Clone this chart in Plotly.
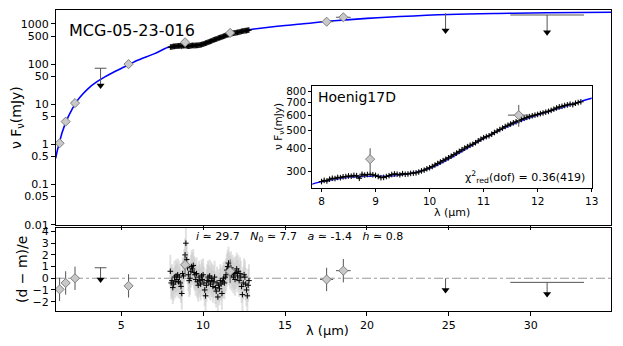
import numpy as np
import plotly.graph_objects as go

# ---------------- data ----------------
# photometry (diamonds)
phot_x = [1.24, 1.61, 2.18, 5.45, 8.9, 11.65, 17.54, 18.56]
phot_y = [1.07, 3.7, 10.7, 100, 350, 600, 1140, 1470]
phot_yerr = [0.1, 0.35, 1.0, 10, 50, 80, 60, 80]
phot_xerr = [0.0, 0.0, 0.0, 0.0, 0.0, 0.2, 0.4, 0.45]
phot_res = [-0.95, -0.4, 0.0, -0.65, 1.15, 0.6, -0.1, 0.65]

# upper limits
ul_x = [3.74, 24.8, 31.0]
ul_y = [79, 1850, 1675]
ul_xerr = [0.36, 0.0, 2.25]
ul_res = [0.9, 0.0, -0.35]

# spectrum
spec_x = [8.00, 8.05, 8.10, 8.15, 8.20, 8.25, 8.30, 8.35, 8.40, 8.45, 8.50, 8.55,
          8.60, 8.65, 8.70, 8.75, 8.80, 8.85, 8.90, 8.95, 9.00, 9.05, 9.10, 9.15,
          9.20, 9.25, 9.30, 9.35, 9.40, 9.45, 9.50, 9.55, 9.60, 9.65, 9.70, 9.75,
          9.80, 9.85, 9.90, 9.95, 10.00, 10.05, 10.10, 10.15, 10.20, 10.25, 10.30,
          10.35, 10.40, 10.45, 10.50, 10.55, 10.60, 10.65, 10.70, 10.75, 10.80,
          10.85, 10.90, 10.95, 11.00, 11.05, 11.10, 11.15, 11.20, 11.25, 11.30,
          11.35, 11.40, 11.45, 11.50, 11.55, 11.60, 11.65, 11.70, 11.75, 11.80,
          11.85, 11.90, 11.95, 12.00, 12.05, 12.10, 12.15, 12.20, 12.25, 12.30,
          12.35, 12.40, 12.45, 12.50, 12.55, 12.60, 12.65, 12.70, 12.75, 12.80]
spec_y = [266, 270, 268, 274, 277, 276, 280, 279, 282, 283, 285, 284,
          287, 286, 277, 291, 288, 290, 291, 289, 287, 283, 279, 280,
          283, 286, 290, 292, 291, 289, 293, 291, 292, 294, 295, 296,
          299, 303, 306, 311, 315, 320, 326, 332, 338, 344, 350,
          356, 363, 370, 377, 385, 393, 401, 408, 415, 420,
          428, 438, 447, 455, 461, 466, 475, 485, 494, 503,
          512, 522, 530, 538, 546, 553, 560, 569, 577, 584,
          589, 595, 600, 605, 611, 616, 622, 628, 636, 645,
          655, 664, 668, 675, 680, 686, 682, 694, 700, 706]
spec_res = [0.6, -0.4, -0.2, -0.8, -0.5, 0.1, -0.3, 0.2, -0.1, 0.3, -0.3, 0.1,
            -0.4, -0.7, -1.3, 0.4, 0.2, 1.1, 2.0, 3.0, 1.6, 0.9, 0.3, -0.2,
            0.0, 0.6, 1.0, 0.8, 1.1, 0.5, 0.3, -0.1, 0.4, -0.3, -0.6, 0.1,
            -0.2, -0.5, 0.2, -0.1, 0.3, -0.4, -1.0, -1.5, -0.6, -0.2, 0.1,
            -0.3, 0.2, -0.5, 0.0, -0.2, -0.7, -0.3, 0.1, -0.8, -1.1,
            -0.4, -1.6, -0.6, -0.9, -0.2, -0.5, -1.3, -0.3, 0.0, -0.4,
            0.1, 0.3, 0.7, 1.0, 1.3, 0.8, 0.5, 0.9, 0.3, 0.6,
            0.1, 0.4, -0.1, 0.5, 0.8, 0.2, 0.6, -0.2, 0.4, 0.1,
            -0.7, -1.4, -0.4, 0.3, 0.1, -0.5, -1.0, -1.5, -0.6, -0.2]

# model
model_x = [1.0, 1.1, 1.2, 1.4, 1.6, 1.8, 2.0, 2.3, 2.6, 3.0, 3.5, 4.0, 4.5, 5.0,
           5.5, 6.0, 7.0, 7.83, 8.0, 8.5, 9.0, 9.2, 9.5, 10.0, 10.5, 11.0, 11.5, 12.0,
           12.5, 13.0, 14, 15, 16, 18, 20, 22, 25, 28, 31, 35]
model_y = [0.45, 0.7, 1.0, 2.0, 3.4, 5.2, 7.5, 12, 17, 25, 36, 48, 62, 78,
           98, 125, 180, 258, 265, 280, 285, 284, 290, 312, 370, 450, 530, 600,
           665, 738, 830, 920, 1000, 1200, 1380, 1530, 1720, 1830, 1900, 1960]

main_yticks = [0.01, 0.05, 0.1, 0.5, 1, 5, 10, 50, 100, 500, 1000]
main_yticktext = ["0.01", "0.05", "0.1", "0.5", "1", "5", "10", "50", "100", "500", "1000"]
x_ticks = [5, 10, 15, 20, 25, 30]
res_ticks = [-2, -1, 0, 1, 2, 3, 4]
res_ticktext = ["\u22122", "\u22121", "0", "1", "2", "3", "4"]
inset_xticks = [8, 9, 10, 11, 12, 13]
inset_yticks = [300, 400, 500, 600, 700, 800]

# ---------------- figure ----------------
OFF = 8  # page body margin
W, H = 623 - OFF, 346 - OFF
def px(v):
    return (v - OFF) / W
def py(v):
    return 1 - (v - OFF) / H

FONT = "DejaVu Sans"
BLUE = "#0000ff"
DGRAY = "#555555"
DIAMOND = dict(symbol="diamond", size=7, color="#c8c8c8", line=dict(color="#808080", width=1))
CROSS = dict(symbol="cross-thin", size=4, color="black", line=dict(color="black", width=1))

fig = go.Figure()

ul_tip = [v * 0.37 for v in ul_y]
ul_minus = [v - t for v, t in zip(ul_y, ul_tip)]
res_arrow = 1.0
ul_res_tip = [r - res_arrow for r in ul_res]

# ---- main panel ----
fig.add_trace(go.Scatter(x=model_x, y=model_y, mode="lines", line=dict(color=BLUE, width=1.6, shape="spline"),
                         xaxis="x", yaxis="y", hoverinfo="skip"))
fig.add_trace(go.Scatter(x=spec_x, y=spec_y, mode="lines+markers", line=dict(color="black", width=2.4),
                         marker=CROSS, xaxis="x", yaxis="y"))
fig.add_trace(go.Scatter(x=phot_x, y=phot_y, mode="markers", marker=DIAMOND,
                         error_y=dict(type="data", array=phot_yerr, color=DGRAY, thickness=1, width=0),
                         error_x=dict(type="data", array=phot_xerr, color=DGRAY, thickness=1, width=0),
                         xaxis="x", yaxis="y"))
fig.add_trace(go.Scatter(x=ul_x, y=ul_y, mode="markers", marker=dict(size=1, color="rgba(0,0,0,0)"),
                         error_y=dict(type="data", symmetric=False, array=[0, 0, 0], arrayminus=ul_minus,
                                      color=DGRAY, thickness=1, width=0),
                         error_x=dict(type="data", array=ul_xerr, color=DGRAY, thickness=1, width=0),
                         xaxis="x", yaxis="y"))
fig.add_trace(go.Scatter(x=ul_x, y=ul_tip, mode="markers",
                         marker=dict(symbol="triangle-down", size=7, color="black"),
                         xaxis="x", yaxis="y"))

# ---- residual panel ----
fig.add_trace(go.Scatter(x=spec_x, y=spec_res, mode="markers", marker=CROSS,
                         error_y=dict(type="constant", value=1.4, color="rgba(200,200,200,0.55)", thickness=2, width=0),
                         xaxis="x2", yaxis="y2"))
fig.add_trace(go.Scatter(x=phot_x, y=phot_res, mode="markers", marker=DIAMOND,
                         error_y=dict(type="constant", value=1.0, color=DGRAY, thickness=1, width=0),
                         error_x=dict(type="data", array=phot_xerr, color=DGRAY, thickness=1, width=0),
                         xaxis="x2", yaxis="y2"))
fig.add_trace(go.Scatter(x=ul_x, y=ul_res, mode="markers", marker=dict(size=1, color="rgba(0,0,0,0)"),
                         error_y=dict(type="data", symmetric=False, array=[0, 0, 0],
                                      arrayminus=[res_arrow] * 3, color=DGRAY, thickness=1, width=0),
                         error_x=dict(type="data", array=ul_xerr, color=DGRAY, thickness=1, width=0),
                         xaxis="x2", yaxis="y2"))
fig.add_trace(go.Scatter(x=ul_x, y=ul_res_tip, mode="markers",
                         marker=dict(symbol="triangle-down", size=7, color="black"),
                         xaxis="x2", yaxis="y2"))

# ---- inset ----
fig.add_trace(go.Scatter(x=model_x, y=model_y, mode="lines", line=dict(color=BLUE, width=1.4, shape="spline"),
                         xaxis="x3", yaxis="y3", hoverinfo="skip"))
fig.add_trace(go.Scatter(x=spec_x, y=spec_y, mode="lines+markers", line=dict(color="black", width=1.2),
                         marker=CROSS,
                         error_y=dict(type="percent", value=2.5, color="rgba(200,200,200,0.7)", thickness=2, width=0),
                         xaxis="x3", yaxis="y3"))
fig.add_trace(go.Scatter(x=phot_x, y=phot_y, mode="markers", marker=DIAMOND,
                         error_y=dict(type="data", array=phot_yerr, color=DGRAY, thickness=1, width=0),
                         error_x=dict(type="data", array=phot_xerr, color=DGRAY, thickness=1, width=0),
                         xaxis="x3", yaxis="y3"))

axis_common = dict(showline=True, linecolor="black", linewidth=1, mirror=True, ticks="outside",
                   ticklen=4, tickcolor="black", showgrid=False, zeroline=False,
                   tickfont=dict(family=FONT, size=11, color="black"), automargin=False)
inset_axis = {**axis_common, "tickfont": dict(family=FONT, size=10.5, color="black"), "ticklen": 3}

main_dom_x = [px(56), px(611)]
fig.update_layout(
    width=W, height=H, autosize=False, showlegend=False,
    margin=dict(l=0, r=0, t=0, b=0),
    paper_bgcolor="white", plot_bgcolor="white",
    font=dict(family=FONT, color="black"),
    xaxis=dict(domain=main_dom_x, range=[1.02, 34.9], anchor="y", tickvals=x_ticks,
               showticklabels=False, **axis_common),
    yaxis=dict(domain=[py(224.7), py(10)], type="log", range=[-2, np.log10(2230)], anchor="x",
               tickvals=main_yticks, ticktext=main_yticktext, **axis_common),
    xaxis2=dict(domain=main_dom_x, range=[1.02, 34.9], anchor="y2", tickvals=x_ticks, **axis_common),
    yaxis2=dict(domain=[py(311), py(228)], range=[-2.8, 4.3], anchor="x2",
                tickvals=res_ticks, ticktext=res_ticktext, **axis_common),
    xaxis3=dict(domain=[px(312.3), px(591.7)], range=[7.83, 13], anchor="y3", tickvals=inset_xticks,
                **inset_axis),
    yaxis3=dict(domain=[py(188.3), py(85.7)], type="log", range=[np.log10(245), np.log10(860)], anchor="x3",
                tickvals=inset_yticks, **inset_axis),
)

# zero line in residual panel
fig.add_shape(type="line", xref="x2 domain", yref="y2", x0=0, x1=1, y0=0, y1=0,
              line=dict(color="#999999", width=1.2, dash="dashdot"), layer="below")

def add_text(text, x, y, size, xanchor="center", yanchor="middle", angle=0):
    fig.add_annotation(text=text, x=px(x), y=py(y), xref="paper", yref="paper", showarrow=False,
                       xanchor=xanchor, yanchor=yanchor, textangle=angle,
                       font=dict(family=FONT, size=size, color="black"))

add_text("MCG-05-23-016", 67, 30, 16, xanchor="left")
add_text("Hoenig17D", 316, 97, 14, xanchor="left")
add_text("\u03c7<sup>2</sup><sub>red</sub>(dof) = 0.36(419)", 587, 177, 11, xanchor="right")
add_text("\u03bd F<sub>\u03bd</sub>(mJy)", 17, 118, 14, angle=-90)
add_text("\u03bd F<sub>\u03bd</sub>(mJy)", 279, 127, 10.5, angle=-90)
add_text("(d \u2212 m)/e", 22, 270, 14, angle=-90)
add_text("\u03bb (\u03bcm)", 327, 330, 13)
add_text("\u03bb (\u03bcm)", 452, 212, 11)
sp = "\u00a0\u00a0\u00a0"
add_text("<i>i</i> \u2243 29.7" + sp + "<i>N</i><sub>0</sub> \u2243 7.7" + sp + "<i>a</i> \u2243 -1.4" + sp +
         "<i>h</i> \u2243 0.8", 194, 237, 11, xanchor="left")

fig.write_html("out.html")
